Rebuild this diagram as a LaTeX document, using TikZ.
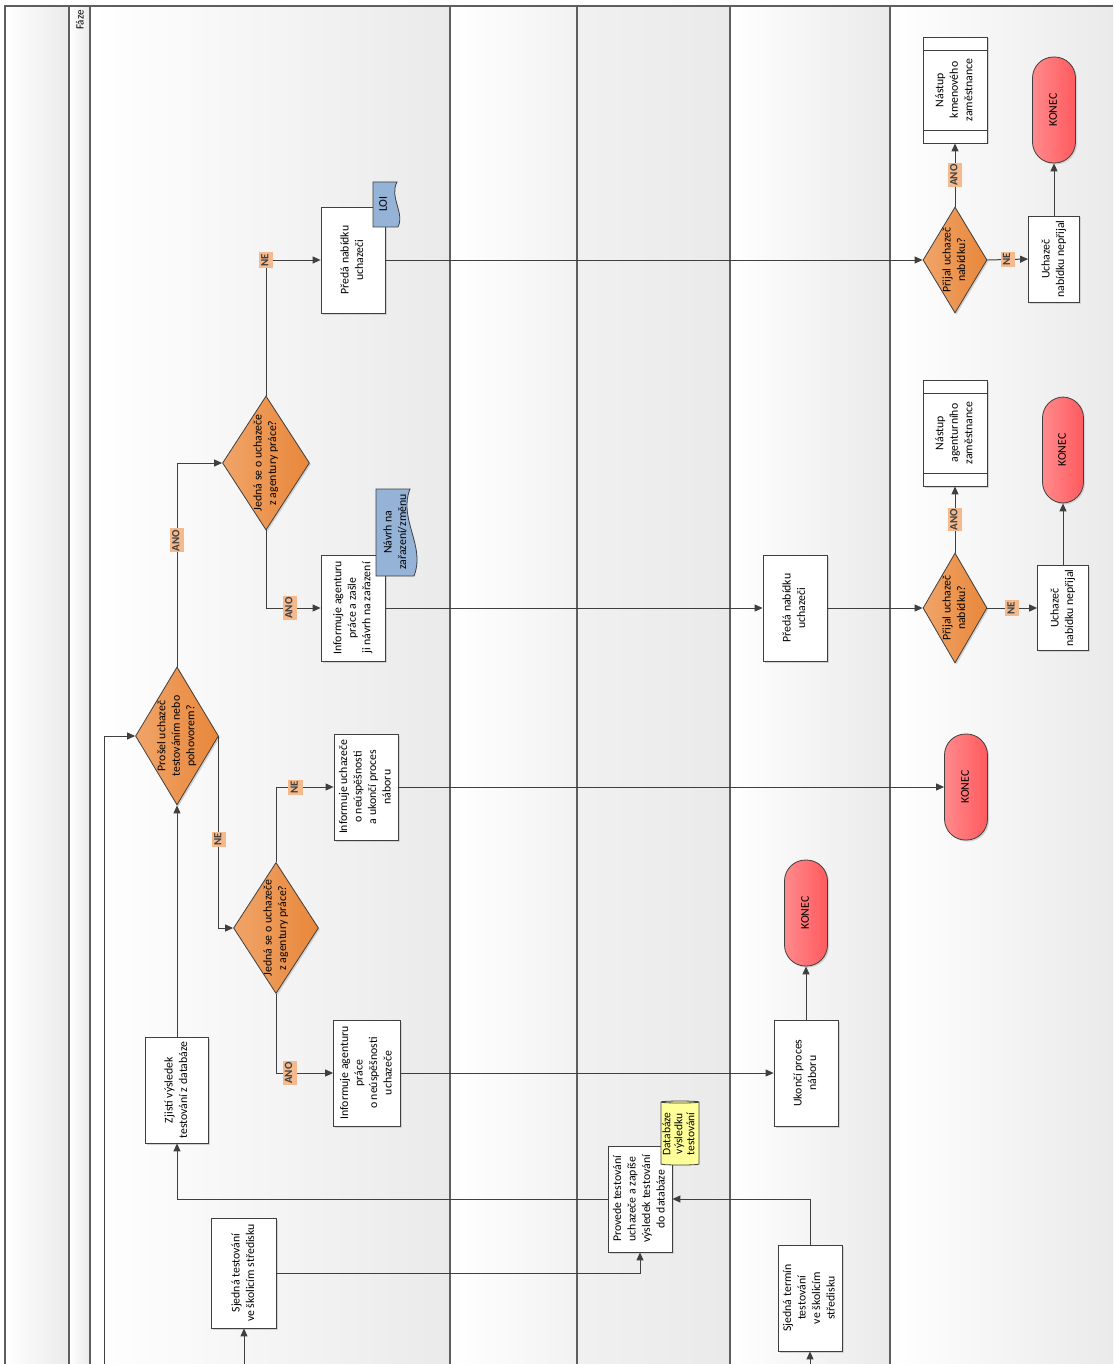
\documentclass[tikz,border=0pt]{standalone}
\usepackage{fontspec}
\setmainfont{Carlito}
\usepackage{graphicx}
\usetikzlibrary{arrows.meta, shapes.geometric, shadows}

\definecolor{lanegray}{HTML}{EAEAEA}
\definecolor{laneline}{HTML}{5E5E5E}
\definecolor{dkgray}{HTML}{3F3F3F}
\definecolor{decorange}{HTML}{E8873A}
\definecolor{decorangelt}{HTML}{F0A468}
\definecolor{endred}{HTML}{FF5A5E}
\definecolor{endredlt}{HTML}{FF8A8C}
\definecolor{docblue}{HTML}{95B3D7}
\definecolor{dbyellow}{HTML}{FFFF99}
\definecolor{peach}{HTML}{F4B98C}

\newcommand{\vt}[1]{\rotatebox{90}{\begin{tabular}{@{}c@{}}#1\end{tabular}}}

\begin{document}
\begin{tikzpicture}[x=1pt, y=-1pt, >={Triangle[length=8pt, width=7pt]},
  font=\fontsize{11.8}{14.5}\selectfont,
  softshadow/.style={drop shadow={shadow xshift=1.5pt, shadow yshift=-1.5pt, fill=black!18, opacity=1}},
  task/.style={draw=dkgray, fill=white, line width=0.8pt, minimum width=64pt, minimum height=106pt, inner sep=1pt, softshadow},
  ruled/.style={task, path picture={
    \draw[dkgray, line width=0.8pt]
      ([yshift=-13pt]path picture bounding box.north west) -- ([yshift=-13pt]path picture bounding box.north east)
      ([yshift=13pt]path picture bounding box.south west) -- ([yshift=13pt]path picture bounding box.south east);}},
  decision/.style={diamond, draw=dkgray, line width=0.8pt, left color=decorangelt, right color=decorange, inner sep=0pt, softshadow},
  terminal/.style={draw=dkgray, line width=0.8pt, rounded corners=21pt, left color=endredlt, right color=endred, minimum width=43pt, minimum height=106pt, softshadow},
  badge/.style={fill=peach, inner sep=1.2pt, font=\fontsize{11}{12}\selectfont\bfseries},
  flow/.style={dkgray, line width=1pt, ->},
  docshape/.style={draw=dkgray, line width=0.8pt, fill=docblue}
]

\useasboundingbox (0,0) rectangle (1113,1364);

% Lanes
\shade[left color=white, right color=lanegray] (5,6) rectangle (69,1364);
\shade[left color=white, right color=lanegray] (69,6) rectangle (90,1364);
\shade[left color=white, right color=lanegray] (90,6) rectangle (450,1364);
\shade[left color=white, right color=lanegray!60] (450,6) rectangle (577,1364);
\shade[left color=lanegray!70, right color=lanegray] (577,6) rectangle (730,1364);
\shade[left color=white, right color=lanegray] (730,6) rectangle (890,1364);
\shade[left color=white, right color=lanegray] (890,6) rectangle (1113,1364);
\draw[laneline, line width=1.3pt] (5,1364) -- (5,6) -- (1113,6);
\foreach \x in {69,90,450,577,730,890}
  \draw[laneline, line width=1.1pt] (\x,6) -- (\x,1364);
\node[font=\fontsize{11}{12}\selectfont] (faze) at (80,20) {\rotatebox{90}{Fáze}};

% --- Lane 1 ---
\node[task, minimum width=65pt, minimum height=110pt] (sjt) at (244,1273) {\vt{Sjedná testování\\ve školicím středisku}};
\node[task, minimum width=63pt] (zji) at (177,1090) {\vt{Zjistí výsledek\\testování z databáze}};
\node[decision, minimum width=83pt, minimum height=138pt,
  label={center:\vt{Prošel uchazeč\\testováním nebo\\pohovorem?}}] (d1) at (177,736) {};
\node[decision, minimum width=85pt, minimum height=131pt,
  label={center:\vt{Jedná se o uchazeče\\z agentury práce?}}] (d2) at (276,928) {};
\node[decision, minimum width=87pt, minimum height=134pt,
  label={center:\vt{Jedná se o uchazeče\\z agentury práce?}}] (d3) at (266,463) {};
\node[task, minimum width=67pt] (infa) at (367,1073) {\vt{Informuje agenturu\\práce\\o neúspěšnosti\\uchazeče}};
\node[task] (infu) at (366,787) {\vt{Informuje uchazeče\\o neúspěšnosti\\a ukončí proces\\náboru}};
\node[task] (infz) at (353,608) {\vt{Informuje agenturu\\práce a zašle\\ji návrh na zařazení}};
\node[task] (preda1) at (353,260) {\vt{Předá nabídku\\uchazeči}};

% documents
\draw[docshape, shift={(397,532)}] (-21,-43) -- (13,-43) .. controls (1,-13) and (29,14) .. (17,44) -- (-21,44) -- cycle;
\node (navrh) at (396,532) {\vt{Návrh na\\zařazení/změnu}};
\draw[docshape, shift={(386,205)}] (-13,-23) -- (11,-23) .. controls (3,-8) and (19,8) .. (12,22) -- (-13,22) -- cycle;
\node (loi) at (384,204) {\vt{LOI}};

% --- Lane 3 ---
\node[task] (prov) at (640,1199) {\vt{Provede testování\\uchazeče a zapíše\\výsledek testování\\do databáze}};
\node[cylinder, shape border rotate=90, aspect=0.3, draw=dkgray, line width=0.8pt, fill=dbyellow,
  minimum width=38pt, minimum height=64pt,
  label={[font=\fontsize{11.5}{12}\selectfont]center:\vt{Databáze\\výsledku\\testování}}] (db) at (680,1134) {};

% --- Lane 4 ---
\node[task] (term) at (810,1298) {\vt{Sjedná termín\\testování\\ve školicím\\středisku}};
\node[task] (ukon) at (806,1073) {\vt{Ukončí proces\\náboru}};
\node[terminal] (end2) at (806,913) {\vt{KONEC}};
\node[task] (preda2) at (795,608) {\vt{Předá nabídku\\uchazeči}};

% --- Lane 5 ---
\node[terminal] (end1) at (966,787) {\vt{KONEC}};
\node[decision, minimum width=64pt, minimum height=110pt,
  label={center:\vt{Přijal uchazeč\\nabídku?}}] (acc2) at (955,608) {};
\node[ruled] (agen) at (955,433) {\vt{Nástup\\agenturního\\zaměstnance}};
\node[task, minimum width=51pt, minimum height=85pt] (rej2) at (1063,608) {\vt{Uchazeč\\nabídku nepřijal}};
\node[terminal, minimum width=41pt] (end3) at (1063,450) {\vt{KONEC}};
\node[decision, minimum width=64pt, minimum height=106pt,
  label={center:\vt{Přijal uchazeč\\nabídku?}}] (acc1) at (955,260) {};
\node[ruled] (kmen) at (955,90) {\vt{Nástup\\kmenového\\zaměstnance}};
\node[task, minimum width=51pt, minimum height=86pt] (rej1) at (1054,259) {\vt{Uchazeč\\nabídku nepřijal}};
\node[terminal] (end4) at (1054,110) {\vt{KONEC}};

% --- Connectors ---
\coordinate (in1) at (104,1364);
\coordinate (in2) at (244,1364);
\coordinate (in3) at (810,1364);

\draw[flow] (in1) |- (d1.west);
\draw[flow] (in2) -- (sjt.south);
\draw[flow] (in3) -- (term.south);
\draw[flow] (sjt.east) -| (prov.south);
\draw[flow] (term.north) |- (prov.east);
\draw[flow] (prov.west) -| (zji.south);
\draw[flow] (zji.north) -- (d1.south);
\draw[flow] (d1.east) |- node[badge, pos=.27] {\vt{NE}} (d2.west);
\draw[flow] (d1.north) |- node[badge, pos=.31] {\vt{ANO}} (d3.west);
\draw[flow] (d2.north) |- node[badge, pos=.67] {\vt{NE}} (infu.west);
\draw[flow] (d2.south) |- node[badge, pos=.62] {\vt{ANO}} (infa.west);
\draw[flow] (d3.north) |- node[badge, pos=.5] {\vt{NE}} (preda1.west);
\draw[flow] (d3.south) |- node[badge, pos=.72] {\vt{ANO}} (infz.west);
\draw[flow] (preda1.east) -- (acc1.west);
\draw[flow] (infz.east) -- (preda2.west);
\draw[flow] (preda2.east) -- (acc2.west);
\draw[flow] (infu.east) -- (end1.west);
\draw[flow] (infa.east) -- (ukon.west);
\draw[flow] (ukon.north) -- (end2.south);
\draw[flow] (acc2.north) -- node[badge] {\vt{ANO}} (agen.south);
\draw[flow] (acc2.east) -- node[badge] {\vt{NE}} (rej2.west);
\draw[flow] (rej2.north) -- (end3.south);
\draw[flow] (acc1.north) -- node[badge] {\vt{ANO}} (kmen.south);
\draw[flow] (acc1.east) -- node[badge] {\vt{NE}} (rej1.west);
\draw[flow] (rej1.north) -- (end4.south);

\end{tikzpicture}
\end{document}
